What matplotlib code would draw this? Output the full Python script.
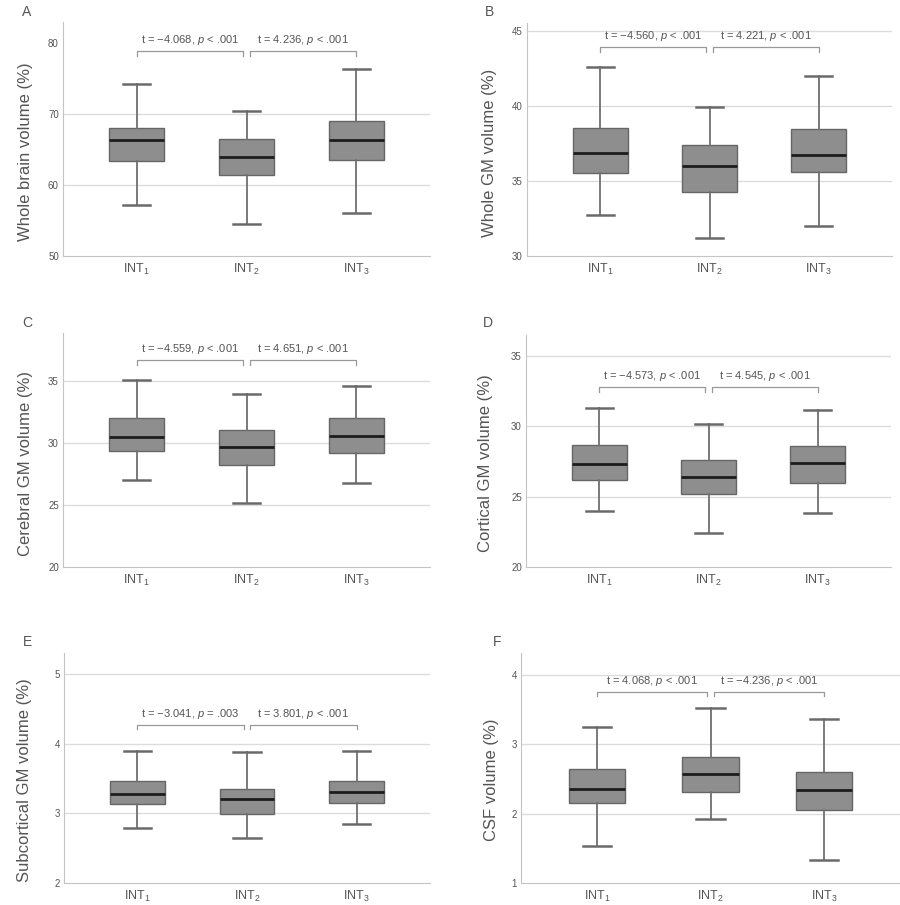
import matplotlib
matplotlib.use("Agg")
import matplotlib.pyplot as plt

plt.rcParams['font.family'] = ['Liberation Sans', 'DejaVu Sans']
plt.rcParams['mathtext.fontset'] = 'custom'
plt.rcParams['mathtext.rm'] = 'Liberation Sans'
plt.rcParams['mathtext.it'] = 'Liberation Sans:italic'

# five-number summaries per group: [whisker low, Q1, median, Q3, whisker high]
groups = ["INT$_1$", "INT$_2$", "INT$_3$"]

whole_brain = [[57.2, 63.4, 66.3, 68.1, 74.3],
               [54.5, 61.4, 64.0, 66.5, 70.4],
               [56.1, 63.6, 66.4, 69.1, 76.4]]
whole_gm = [[32.7, 35.55, 36.88, 38.5, 42.6],
            [31.2, 34.27, 35.97, 37.4, 39.9],
            [32.0, 35.62, 36.72, 38.43, 42.0]]
cerebral_gm = [[27.0, 29.4, 30.5, 32.0, 35.1],
               [25.2, 28.2, 29.7, 31.05, 34.0],
               [26.75, 29.22, 30.6, 32.07, 34.65]]
cortical_gm = [[24.0, 26.2, 27.3, 28.65, 31.3],
               [22.45, 25.18, 26.37, 27.6, 30.2],
               [23.83, 26.0, 27.37, 28.58, 31.2]]
subcortical_gm = [[2.79, 3.14, 3.28, 3.47, 3.89],
                  [2.65, 2.99, 3.2, 3.35, 3.88],
                  [2.85, 3.15, 3.31, 3.47, 3.9]]
csf = [[1.54, 2.15, 2.35, 2.64, 3.25],
       [1.92, 2.32, 2.57, 2.82, 3.52],
       [1.33, 2.06, 2.34, 2.6, 3.37]]

panel_data = [whole_brain, whole_gm, cerebral_gm, cortical_gm, subcortical_gm, csf]
panel_letters = ["A", "B", "C", "D", "E", "F"]
ylabels = ["Whole brain volume (%)", "Whole GM volume (%)", "Cerebral GM volume (%)",
           "Cortical GM volume (%)", "Subcortical GM volume (%)", "CSF volume (%)"]

tests = [["t = \u22124.068, $\\it{p}$ < .001", "t = 4.236, $\\it{p}$ < .001"],
         ["t = \u22124.560, $\\it{p}$ < .001", "t = 4.221, $\\it{p}$ < .001"],
         ["t = \u22124.559, $\\it{p}$ < .001", "t = 4.651, $\\it{p}$ < .001"],
         ["t = \u22124.573, $\\it{p}$ < .001", "t = 4.545, $\\it{p}$ < .001"],
         ["t = \u22123.041, $\\it{p}$ = .003", "t = 3.801, $\\it{p}$ < .001"],
         ["t = 4.068, $\\it{p}$ < .001", "t = \u22124.236, $\\it{p}$ < .001"]]

yticks = [[50, 60, 70, 80], [30, 35, 40, 45], [20, 25, 30, 35],
          [20, 25, 30, 35], [2, 3, 4, 5], [1, 2, 3, 4]]
gridlines = [[60, 70], [35, 40, 45], [25, 30, 35], [25, 30, 35], [3, 4, 5], [2, 3, 4]]

# layout (pixels in 900x905 figure)
W, H = 900, 905
rects_px = [(63, 22, 430, 256), (527, 23, 892, 256),
            (63, 333, 430, 567), (526, 335, 891, 567),
            (64, 653, 430, 883), (521, 653, 900, 883)]
ylims = [(50, 83), (30, 45.5), (20, 38.9), (20, 36.5), (2, 5.3), (1, 4.32)]
bracket_y = [78.9, 43.9, 36.7, 32.8, 4.27, 3.76]
letter_px = [(27, 12), (489, 12), (27, 323), (488, 323), (27, 642), (497, 642)]
ylabel_pos = [(-0.082, 0.444), (-0.082, 0.444), (-0.082, 0.442),
              (-0.09, 0.448), (-0.088, 0.449), (-0.059, 0.45)]

fig = plt.figure(figsize=(9, 9.05), dpi=100)

for i in range(6):
    l, t, r, b = rects_px[i]
    ax = fig.add_axes([l / W, 1 - b / H, (r - l) / W, (b - t) / H])

    stats = []
    for g, row in zip(groups, panel_data[i]):
        stats.append(dict(label=g, whislo=row[0], q1=row[1], med=row[2],
                          q3=row[3], whishi=row[4], fliers=[]))
    ax.bxp(stats, positions=[1, 2, 3], widths=0.5, patch_artist=True,
           showfliers=False,
           boxprops=dict(facecolor="#8e8e8e", edgecolor="#666666", linewidth=1),
           medianprops=dict(color="#1c1c1c", linewidth=2),
           whiskerprops=dict(color="#707070", linewidth=1.3),
           capprops=dict(color="#6a6a6a", linewidth=1.8),
           capwidths=0.25)

    for g in gridlines[i]:
        ax.axhline(g, color="#dcdcdc", linewidth=1, zorder=0)

    ax.set_xlim(0.33, 3.67)
    ax.set_ylim(*ylims[i])
    ax.set_yticks(yticks[i])
    ax.tick_params(length=0, colors="#555555")
    ax.tick_params(axis="y", labelsize=7, pad=3)
    ax.tick_params(axis="x", labelsize=9, pad=4)
    for s in ["top", "right"]:
        ax.spines[s].set_visible(False)
    for s in ["left", "bottom"]:
        ax.spines[s].set_color("#c4c4c4")

    ax.set_ylabel(ylabels[i], fontsize=12, color="#555555")
    ax.yaxis.set_label_coords(*ylabel_pos[i])

    # significance brackets
    y0, y1 = ylims[i]
    d = (y1 - y0) * 0.02
    yb = bracket_y[i]
    for (xa, xb), txt in zip([(1.0, 1.97), (2.03, 3.0)], tests[i]):
        ax.plot([xa, xa, xb, xb], [yb - d, yb, yb, yb - d],
                color="#999999", linewidth=0.9)
        ax.annotate(txt, xy=((xa + xb) / 2, yb), xytext=(0, 3),
                    textcoords="offset points", ha="center", va="bottom",
                    fontsize=8, color="#555555")

    lx, ly = letter_px[i]
    fig.text(lx / W, 1 - ly / H, panel_letters[i], fontsize=10,
             color="#555555", ha="center", va="center")

fig.savefig("out.png", dpi=100)
